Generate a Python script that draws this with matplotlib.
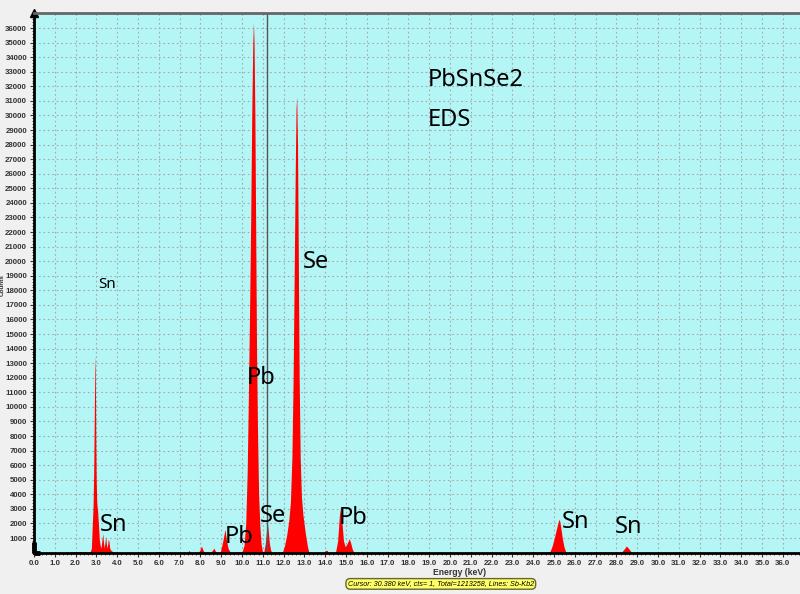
import numpy as np
import matplotlib
matplotlib.use('Agg')
from matplotlib import pyplot as plt
from matplotlib.ticker import MultipleLocator

# spectrum (energy in keV, counts)
energy = [0.0, 1.7, 1.8, 2.5, 2.6, 2.70, 2.76, 2.80, 2.84, 2.87, 2.90, 2.93, 2.95, 2.97, 2.99,
          3.02, 3.06, 3.10, 3.14, 3.18, 3.22, 3.28, 3.31, 3.34, 3.38, 3.42, 3.45, 3.48, 3.52,
          3.57, 3.60, 3.64, 3.70, 3.80, 3.90,
          5.85, 5.9, 6.3, 6.35, 7.38, 7.45, 7.52, 7.90, 7.97, 8.05, 8.13, 8.20,
          8.50, 8.57, 8.65, 8.72, 8.80,
          8.95, 9.05, 9.12, 9.18, 9.25, 9.33, 9.42, 9.50,
          10.00, 10.10, 10.18, 10.25, 10.30, 10.36, 10.42, 10.47, 10.52, 10.55, 10.58, 10.62,
          10.66, 10.70, 10.75, 10.80, 10.86, 10.92, 10.98, 11.05, 11.12, 11.18, 11.22, 11.27,
          11.32, 11.38, 11.45,
          11.95, 12.05, 12.15, 12.25, 12.33, 12.40, 12.46, 12.51, 12.56, 12.60, 12.63, 12.67,
          12.71, 12.75, 12.80, 12.86, 12.93, 13.00, 13.08, 13.15, 13.22,
          13.95, 14.0, 14.1, 14.15,
          14.50, 14.60, 14.68, 14.74, 14.80, 14.88, 14.96, 15.05, 15.15, 15.22, 15.30, 15.38,
          15.70, 15.75, 15.80,
          22.85, 22.9, 22.95, 23.9, 24.0, 24.1,
          24.80, 24.90, 25.00, 25.10, 25.20, 25.26, 25.32, 25.40, 25.48, 25.58,
          28.25, 28.38, 28.48, 28.58, 28.72, 28.95, 29.0, 29.05, 36.9]
counts = [0, 0, 60, 60, 0, 50, 300, 1800, 3200, 5500, 9500, 13500, 12500, 8000, 5000,
          3400, 2800, 1900, 900, 500, 300, 1000, 1300, 700, 300, 800, 1100, 600, 300,
          900, 800, 300, 150, 50, 0,
          0, 60, 60, 0, 0, 150, 0, 0, 150, 450, 150, 0,
          0, 150, 300, 100, 0,
          0, 600, 1100, 1600, 900, 300, 60, 0,
          50, 500, 2000, 5500, 10000, 16000, 23000, 30000, 35000, 36400, 35000, 30000,
          22000, 14000, 8000, 4000, 1800, 600, 100, 50, 600, 1500, 2100, 1400,
          600, 150, 0,
          50, 500, 1200, 2200, 3500, 6500, 12000, 19000, 26000, 30500, 31300, 28000,
          20000, 12000, 6500, 3800, 2600, 1800, 1000, 400, 0,
          0, 150, 150, 0,
          50, 800, 2500, 3150, 2200, 800, 400, 600, 950, 700, 250, 0,
          0, 100, 0,
          0, 70, 0, 0, 90, 0,
          50, 400, 900, 1500, 2100, 2300, 1800, 1000, 400, 0,
          30, 250, 450, 300, 30, 0, 60, 0, 0]

x_ticks = np.arange(0, 37, 1)
y_ticks = np.arange(1000, 37000, 1000)

labels = ['PbSnSe2', 'EDS', 'Sn', 'Se', 'Pb', 'Sn', 'Pb', 'Se', 'Pb', 'Sn', 'Sn']
label_pos = [(18.94, 32440), (18.94, 29690), (3.08, 18370), (12.93, 19950), (10.24, 11980),
             (3.17, 1890), (9.18, 1070), (10.87, 2510), (14.66, 2370), (25.38, 2100), (27.93, 1760)]
label_size = [17, 17, 11, 17, 17, 17, 17, 17, 17, 17, 17]

fig = plt.figure(figsize=(8, 5.94), dpi=100, facecolor='#f0f0f0')
ax = fig.add_axes([0.0425, 0.0697, 0.9575, 0.9083])
ax.set_facecolor('#b4f6f6')

ax.fill_between(energy, counts, 0, color='#ff0000', linewidth=0)
ax.axvline(11.2, color='#555555', lw=1)

ax.set_xlim(0, 36.83)
ax.set_ylim(0, 37030)
ax.set_xticks(x_ticks)
ax.set_xticklabels([f'{v:.1f}' for v in x_ticks])
ax.set_yticks(y_ticks)
ax.xaxis.set_minor_locator(MultipleLocator(0.2))
ax.yaxis.set_minor_locator(MultipleLocator(200))
ax.grid(True, color='#a8a8a8', linestyle=(0, (1.5, 2.5)), lw=0.8)
ax.set_axisbelow(True)

for lbl in ax.get_xticklabels() + ax.get_yticklabels():
    lbl.set_family('Liberation Sans')
    lbl.set_fontsize(5.7)
    lbl.set_color('#333333')
    lbl.set_fontweight('bold')
ax.tick_params(axis='both', which='major', length=3, width=0.8, color='#333333', pad=2)
ax.tick_params(axis='both', which='minor', length=1.5, width=0.6, color='#333333')

ax.spines['left'].set_linewidth(2)
ax.spines['bottom'].set_linewidth(2)
ax.spines['top'].set_color('#666666')
ax.spines['top'].set_linewidth(2)
ax.spines['right'].set_visible(False)
ax.plot([0], [37030], marker='^', color='black', markersize=6, clip_on=False)
# corner mark at the origin
ax.plot([0, 0.3], [0, 0], color='black', lw=3.5, solid_capstyle='butt', clip_on=False)
ax.plot([0, 0], [0, 700], color='black', lw=3.5, solid_capstyle='butt', clip_on=False)

ax.set_xlabel('Energy (keV)', family='Liberation Sans', fontsize=6.2, fontweight='bold', color='#333333')
ax.xaxis.set_label_coords(0.556, -0.028)
fig.text(0.0, 0.52, 'Counts', rotation=90, family='Liberation Sans', fontsize=4.6,
         fontweight='bold', color='#333333', ha='left', va='center')

for t, (px, py), s in zip(labels, label_pos, label_size):
    ax.text(px, py, t, fontsize=s, family='Noto Sans', ha='left', va='center', color='black')

fig.text(0.551, 0.017, 'Cursor: 30.380 keV, cts= 1, Total=1213258, Lines: Sb-Kb2',
         family='Liberation Sans', fontsize=5.2, style='italic', ha='center', va='center',
         bbox=dict(boxstyle='round,pad=0.25,rounding_size=0.6', fc='#ffff66', ec='#666633', lw=1))

fig.savefig('out.png', dpi=100, facecolor=fig.get_facecolor())
